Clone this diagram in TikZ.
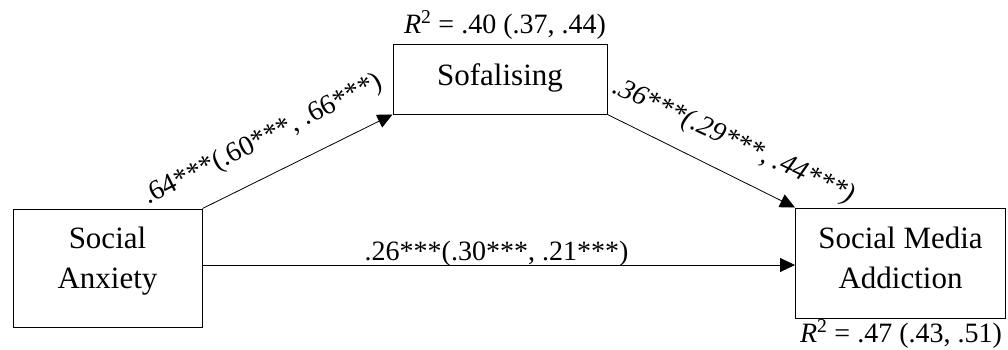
\documentclass[tikz,border=0pt]{standalone}
\usepackage{fontspec}
\setmainfont{Liberation Serif}
\usetikzlibrary{arrows.meta}
\begin{document}
\begin{tikzpicture}[x=1pt,y=-1pt,
  box/.style={draw=black,line width=1pt,inner sep=0pt,align=center,font=\fontsize{31}{40}\selectfont},
  lbl/.style={font=\fontsize{28}{34}\selectfont,inner sep=0pt},
  conn/.style={draw=black,line width=0.8pt,-{Triangle[length=15pt,width=14pt]}}]
\useasboundingbox (0,0) rectangle (1008,349);
\node[box,minimum width=189pt,minimum height=118pt] (sa) at (107.5,268)
  {\rule{0pt}{21.5pt}Social\\Anxiety\rule[-21.5pt]{0pt}{21.5pt}};
\node[box,minimum width=214pt,minimum height=70pt] (sof) at (500,79)
  {\rule[-9.5pt]{0pt}{31pt}Sofalising};
\node[box,minimum width=210pt,minimum height=110pt] (sma) at (900.5,263)
  {\rule{0pt}{21.5pt}Social Media\\Addiction\rule[-11.5pt]{0pt}{11.5pt}};
\draw[conn] (sa.north east) -- (sof.south west);
\draw[conn] (sof.south east) -- (sma.north west);
\draw[conn] ([yshift=3pt]sa.east) -- ([yshift=3pt]sa.east -| sma.west);
\node[lbl,anchor=base west,rotate=26.5] (l1) at (148,205) {.64***(.60***, .66***)};
\node[lbl,anchor=base west,rotate=-25,font=\fontsize{28}{34}\selectfont\itshape] (l2) at (611,92) {.36***(.29***, .44***)};
\node[lbl,anchor=base] (l3) at (496.5,260) {.26***(.30***, .21***)};
\node[lbl,anchor=base] (r1) at (505,33) {\textit{R}\textsuperscript{2} = .40 (.37, .44)};
\node[lbl,anchor=base] (r2) at (901,342) {\textit{R}\textsuperscript{2} = .47 (.43, .51)};
\end{tikzpicture}
\end{document}
